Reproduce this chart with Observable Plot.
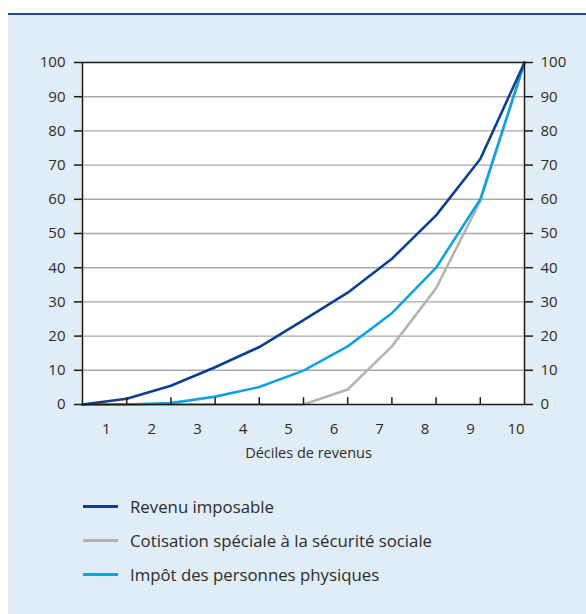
<!DOCTYPE html>
<html lang="fr">
<head>
<meta charset="utf-8">
<script src="https://cdn.jsdelivr.net/npm/d3@7"></script>
<script src="https://cdn.jsdelivr.net/npm/@observablehq/plot@0.6"></script>
<style>
  html, body { margin: 0; padding: 0; background: #ffffff; }
  body { width: 586px; height: 614px; position: relative; overflow: hidden;
         font-family: "Open Sans", "Noto Sans", sans-serif; }
  #panel { position: absolute; left: 8px; top: 13px; width: 578px; height: 601px;
           background: #e1edf6; border-top: 2px solid #1a4f99; box-sizing: border-box; }
  #chart { position: absolute; left: 0; top: 0; }
  #chart svg { overflow: visible; }
  #legend { position: absolute; left: 75px; top: 474px; }
  .row { display: flex; align-items: center; height: 34px; }
  .swatch { width: 35px; height: 3px; margin-right: 12px; }
  .row span { font-size: 16.8px; color: #2b2b2b; }
</style>
</head>
<body>
<div id="panel">
  <div id="chart"></div>
  <div id="legend"></div>
</div>
<script>
// Cumulative shares (%) by income decile, from 0 to the 10th decile
const deciles = [0, 1, 2, 3, 4, 5, 6, 7, 8, 9, 10];
const revenuImposable = [0, 1.7, 5.5, 10.9, 16.8, 24.7, 32.7, 42.6, 55.3, 71.8, 100];
const cotisationSpeciale = [0, 0, 0, 0, 0, 0, 4.4, 17, 34, 59.5, 100];
const impotPersonnesPhysiques = [0, 0, 0.4, 2.3, 5.1, 9.9, 17, 26.7, 40, 60, 100];

const decileLabels = [1, 2, 3, 4, 5, 6, 7, 8, 9, 10];
const yTicks = [0, 10, 20, 30, 40, 50, 60, 70, 80, 90, 100];
const xTitle = "Déciles de revenus";

const series = [
  {name: "Revenu imposable", values: revenuImposable, color: "#0c3f8e"},
  {name: "Cotisation spéciale à la sécurité sociale", values: cotisationSpeciale, color: "#b3b3b3"},
  {name: "Impôt des personnes physiques", values: impotPersonnesPhysiques, color: "#12a2e2"}
];

const rows = series.flatMap(s => deciles.map((d, i) => ({serie: s.name, x: d, y: s.values[i]})));
// draw order: grey first, dark blue on top
const drawOrder = [series[1], series[2], series[0]];

const chart = Plot.plot({
  width: 578,
  height: 465,
  marginLeft: 74,
  marginRight: 62,
  marginTop: 47,
  marginBottom: 76,
  x: {domain: [0, 10], axis: null},
  y: {domain: [0, 100], axis: null},
  style: {background: "transparent", color: "#2b2b2b", fontFamily: "'Open Sans', 'Noto Sans', sans-serif", fontSize: "15px"},
  marks: [
    Plot.frame({fill: "white"}),
    Plot.gridY(yTicks.filter(t => t > 0 && t < 100), {stroke: "#a9a9a9", strokeOpacity: 1, strokeWidth: 1.4}),
    ...drawOrder.map(s => Plot.line(rows.filter(r => r.serie === s.name), {
      x: "x", y: "y", stroke: s.color, strokeWidth: 2.6, strokeLinejoin: "round"
    })),
    // small upward ticks between deciles
    Plot.ruleX(deciles.slice(1, -1), {y1: 0, y2: 2, stroke: "#1a1a1a", strokeWidth: 1.5}),
    Plot.frame({stroke: "#1a1a1a", strokeWidth: 1.5}),
    Plot.axisY(yTicks, {anchor: "left", tickSize: 8, tickPadding: 9, label: null, stroke: "#1a1a1a", strokeWidth: 1.5, fontSize: 15}),
    Plot.axisY(yTicks, {anchor: "right", tickSize: 8, tickPadding: 8, label: null, stroke: "#1a1a1a", strokeWidth: 1.5, fontSize: 15}),
    // decile labels sit between the ticks, spread slightly wider than the frame
    Plot.text(decileLabels, {x: d => 0.54 + (d - 1) * 1.03, y: 0, dy: 25, text: d => String(d), fontSize: 15, fill: "#2b2b2b"}),
    Plot.text([xTitle], {frameAnchor: "bottom", dx: 5, dy: 53, text: d => d, fontSize: 14.5, fill: "#2b2b2b"})
  ]
});
document.getElementById("chart").append(chart);

const legend = document.getElementById("legend");
for (const s of series) {
  const row = document.createElement("div");
  row.className = "row";
  const sw = document.createElement("div");
  sw.className = "swatch";
  sw.style.background = s.color;
  const label = document.createElement("span");
  label.textContent = s.name;
  row.append(sw, label);
  legend.append(row);
}
</script>
</body>
</html>
